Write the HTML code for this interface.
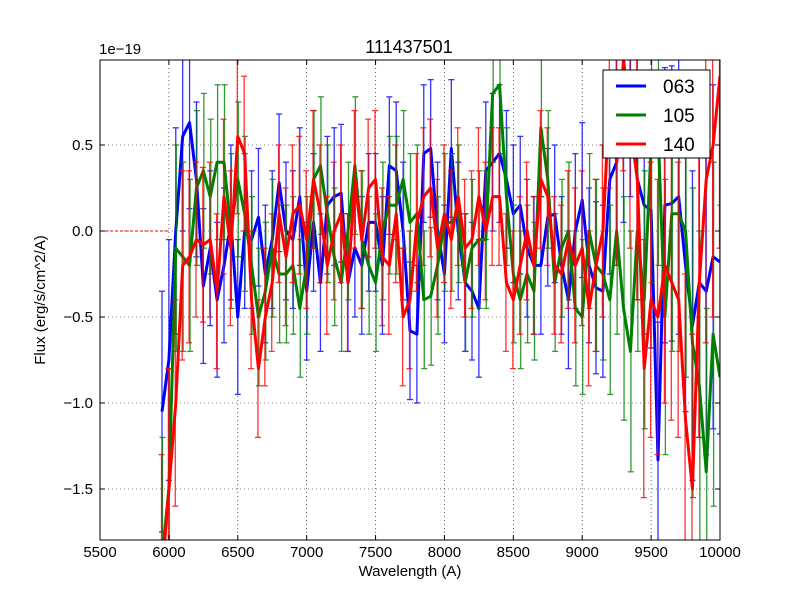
<!DOCTYPE html>
<html><head><meta charset="utf-8"><style>
html,body{margin:0;padding:0;background:#fff;overflow:hidden;width:800px;height:600px;}
svg{display:block;}
svg text{font-family:"Liberation Sans","DejaVu Sans",sans-serif;}
</style></head><body>
<svg id="chart" width="800" height="600" xmlns="http://www.w3.org/2000/svg">
<defs><clipPath id="clip"><rect x="100" y="60" width="620" height="480"/></clipPath></defs>
<rect width="800" height="600" fill="#fff"/>
<g id="grid"></g>
<g id="marks" clip-path="url(#clip)"></g>
<rect x="100" y="60" width="620" height="480" fill="none" stroke="#000" stroke-width="1"/>
<g id="ticks"></g>
<text x="409" y="53" font-size="18" text-anchor="middle">111437501</text>
<text x="99" y="54" font-size="15">1e−19</text>
<text x="410" y="576" font-size="15" text-anchor="middle">Wavelength (A)</text>
<text x="45" y="300" font-size="15" text-anchor="middle" transform="rotate(-90 45 300)">Flux (erg/s/cm^2/A)</text>
<g>
<rect x="603" y="70" width="107" height="88" fill="#fff" stroke="#000" stroke-width="1"/>
<g><line x1="616" y1="86" x2="646" y2="86" stroke="#0000ff" stroke-width="3"/><text x="663" y="93" font-size="19">063</text></g>
<g><line x1="616" y1="115" x2="646" y2="115" stroke="#008000" stroke-width="3"/><text x="663" y="122" font-size="19">105</text></g>
<g><line x1="616" y1="144" x2="646" y2="144" stroke="#ff0000" stroke-width="3"/><text x="663" y="151" font-size="19">140</text></g>
</g>
</svg>
<script>
const wavelengths=[5950,6000,6050,6100,6150,6200,6250,6300,6350,6400,6450,6500,6550,6600,6650,6700,6750,6800,6850,6900,6950,7000,7050,7100,7150,7200,7250,7300,7350,7400,7450,7500,7550,7600,7650,7700,7750,7800,7850,7900,7950,8000,8050,8100,8150,8200,8250,8300,8350,8400,8450,8500,8550,8600,8650,8700,8750,8800,8850,8900,8950,9000,9050,9100,9150,9200,9250,9300,9350,9400,9450,9500,9550,9600,9650,9700,9750,9800,9850,9900,9950,10000];
const flux063=[-1.05,-0.75,0.0,0.55,0.63,0.3,-0.32,-0.1,-0.4,-0.2,0.05,-0.5,0.0,-0.05,0.08,-0.25,-0.05,0.28,0.0,-0.05,0.2,-0.35,0.05,-0.3,0.15,0.2,0.22,-0.3,-0.1,-0.2,0.05,0.05,-0.2,0.38,0.35,0.0,-0.58,-0.6,0.45,0.48,0.0,-0.25,0.48,0.0,-0.3,-0.35,-0.45,0.35,0.4,0.45,0.3,0.1,0.15,-0.1,-0.2,-0.2,0.08,0.1,-0.2,-0.4,0.0,0.18,-0.2,-0.33,-0.35,0.3,0.4,0.7,0.9,0.3,0.15,0.12,-1.33,0.15,0.16,0.2,-0.2,-0.55,-0.3,-0.35,-0.15,-0.18];
const flux105=[-1.9,-1.5,-0.1,-0.15,-0.2,0.25,0.35,0.2,0.4,0.4,0.0,0.3,0.1,-0.2,-0.5,-0.35,-0.1,-0.25,-0.25,-0.2,-0.45,-0.2,0.3,0.38,0.1,-0.15,-0.3,0.0,0.38,-0.05,-0.2,-0.3,0.0,0.15,0.15,0.3,0.05,0.1,-0.4,-0.38,-0.2,0.05,0.05,0.1,-0.3,-0.1,-0.05,-0.05,0.8,0.85,0.2,-0.25,-0.4,-0.25,-0.35,0.6,0.3,-0.3,-0.1,0.0,-0.45,-0.5,0.0,-0.2,-0.25,-0.4,0.0,-0.45,-0.7,0.0,-0.4,0.5,0.6,-0.5,0.1,0.1,0.0,-0.65,-0.9,-1.4,-0.6,-0.85];
const flux140=[-2.0,-1.5,-1.0,-0.2,-0.15,-0.05,-0.08,-0.05,-0.35,0.2,-0.1,0.55,0.45,-0.4,-0.8,-0.5,-0.3,0.1,-0.15,0.1,0.15,-0.05,0.3,0.1,-0.2,0.0,0.1,-0.3,0.3,-0.05,0.25,0.3,-0.15,-0.2,0.1,-0.5,-0.4,0.05,0.2,0.25,-0.1,0.1,-0.05,0.2,-0.1,-0.05,0.2,0.0,0.2,0.2,-0.3,-0.4,-0.2,0.0,-0.2,0.3,0.2,-0.2,-0.25,-0.05,-0.2,-0.1,-0.45,-0.2,0.0,0.8,0.4,1.0,0.6,0.3,-0.8,-0.4,-0.5,-0.2,-0.3,-0.4,-1.1,-1.5,-0.3,0.3,0.5,0.9];
const fluxErr=[0.7,0.7,0.6,0.55,0.5,0.45,0.45,0.45,0.45,0.45,0.45,0.45,0.45,0.4,0.4,0.4,0.4,0.4,0.4,0.4,0.4,0.4,0.4,0.4,0.4,0.4,0.4,0.4,0.4,0.4,0.4,0.4,0.4,0.4,0.4,0.4,0.4,0.4,0.4,0.4,0.4,0.4,0.4,0.4,0.4,0.4,0.4,0.4,0.4,0.4,0.4,0.4,0.4,0.4,0.4,0.4,0.4,0.4,0.4,0.4,0.45,0.45,0.45,0.5,0.5,0.55,0.6,0.65,0.7,0.7,0.75,0.8,0.8,0.8,0.8,0.8,0.85,0.9,0.9,0.95,1.0,1.0];
const xTicks=[5500,6000,6500,7000,7500,8000,8500,9000,9500,10000];
const yTicks=[-1.5,-1.0,-0.5,0.0,0.5];
const yTickLabels=["−1.5","−1.0","−0.5","0.0","0.5"];

const NS="http://www.w3.org/2000/svg";
const X=v=>100+(v-5500)*620/4500;
const Y=v=>231-v*172;
function mk(tag,attrs,parent){const e=document.createElementNS(NS,tag);for(const k in attrs)e.setAttribute(k,attrs[k]);parent.appendChild(e);return e;}
const grid=document.getElementById('grid'),ticks=document.getElementById('ticks'),marks=document.getElementById('marks');
xTicks.forEach(t=>{
  const x=X(t);
  if(t>5500&&t<10000){const g=mk('line',{x1:x,x2:x,y1:60,y2:540,stroke:'#000','stroke-width':0.6,'stroke-dasharray':'1,3'},grid);
  
  }
  mk('line',{x1:x,x2:x,y1:540,y2:535,stroke:'#000'},ticks);
  mk('line',{x1:x,x2:x,y1:60,y2:65,stroke:'#000'},ticks);
  const tx=mk('text',{x:x,y:557,'font-size':15,'text-anchor':'middle'},ticks);
  tx.textContent=t;
  
  
});
yTicks.forEach((t,i)=>{
  const y=Y(t);
  const g=mk('line',{x1:100,x2:720,y1:y,y2:y,stroke:'#000','stroke-width':0.6,'stroke-dasharray':'1,3'},grid);
  
  
  mk('line',{x1:100,x2:105,y1:y,y2:y,stroke:'#000'},ticks);
  mk('line',{x1:720,x2:715,y1:y,y2:y,stroke:'#000'},ticks);
  const tx=mk('text',{x:93,y:y+5,'font-size':15,'text-anchor':'end'},ticks);
  tx.textContent=yTickLabels[i];
  
  
});
const zl=mk('line',{x1:X(5500),x2:X(6000),y1:Y(0),y2:Y(0),stroke:'#ff0000','stroke-width':1,'stroke-dasharray':'3,2'},marks);


const series=[["063",flux063,"#0000ff",0],["105",flux105,"#008000",12],["140",flux140,"#ff0000",-12]];
series.forEach(([name,vals,color,off])=>{
  const g=mk('g',{},marks);
  
  
  vals.forEach((v,i)=>{
    const x=X(wavelengths[i]+off*0.3),e=fluxErr[i];
    const eb=mk('g',{stroke:color,'stroke-width':1.3,opacity:0.8},g);
    
    
    mk('line',{x1:x,x2:x,y1:Y(v-e),y2:Y(v+e)},eb);
    mk('line',{x1:x-3,x2:x+3,y1:Y(v-e),y2:Y(v-e)},eb);
    mk('line',{x1:x-3,x2:x+3,y1:Y(v+e),y2:Y(v+e)},eb);
  });
  const pts=vals.map((v,i)=>X(wavelengths[i])+','+Y(v)).join(' ');
  const pl=mk('polyline',{points:pts,fill:'none',stroke:color,'stroke-width':3,'stroke-linejoin':'round'},g);
  
  
});
</script>
</body></html>
